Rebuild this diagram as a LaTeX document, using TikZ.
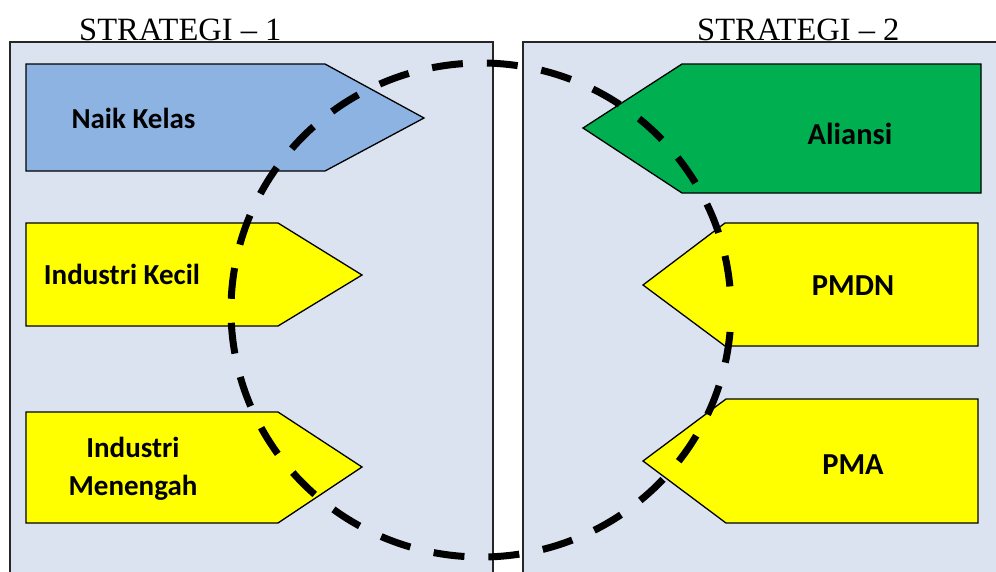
\documentclass[tikz,border=0pt]{standalone}
\usepackage{fontspec}
\setmainfont{Liberation Serif}
\newfontfamily\lblfont{Carlito}
\definecolor{panelfill}{HTML}{DBE3F0}
\definecolor{bluefill}{HTML}{8DB3E2}
\definecolor{greenfill}{HTML}{00B050}
\definecolor{yellowfill}{HTML}{FFFF00}
\tikzset{
  panelbox/.style={fill=panelfill},
  paneledge/.style={draw=black!85, line width=1.5pt},
  arrowshape/.style={draw=black, line width=1.3pt, line join=miter},
  lbl/.style={font=\lblfont\bfseries\fontsize{29}{38}\selectfont, align=center, anchor=base, inner sep=0pt},
  rlbl/.style={font=\lblfont\bfseries\fontsize{30.5}{38}\selectfont, anchor=base, inner sep=0pt},
  titlelbl/.style={font=\fontsize{32.5}{38}\selectfont, anchor=base west, inner sep=0pt},
  ring/.style={line width=7pt, dash pattern=on 31pt off 24pt, dash phase=33pt}
}
\begin{document}
\begin{tikzpicture}[x=1pt,y=-1pt]
\useasboundingbox (0,0) rectangle (996,571);
\begin{scope}
\clip (0,0) rectangle (996,571);
% panels
\fill[panelbox] (10,42) rectangle (493,590);
\draw[paneledge] (10,590) -- (10,42) -- (493,42) -- (493,590);
\fill[panelbox] (523,42) rectangle (1010,590);
\draw[paneledge] (523,590) -- (523,42) -- (1010,42);
\end{scope}
% titles
\node[titlelbl] (t1) at (79,40) {STRATEGI – 1};
\node[titlelbl] (t2) at (697,40) {STRATEGI – 2};
% left arrows
\draw[arrowshape, fill=bluefill] (26,64) -- (325,64) -- (424,118) -- (325,171) -- (26,171) -- cycle;
\draw[arrowshape, fill=yellowfill] (26,223) -- (278,223) -- (362,275) -- (278,326) -- (26,326) -- cycle;
\draw[arrowshape, fill=yellowfill] (26,412) -- (278,412) -- (362,467) -- (278,523) -- (26,523) -- cycle;
% right arrows
\draw[arrowshape, fill=greenfill] (981,64) -- (682,64) -- (583,128) -- (682,193) -- (981,193) -- cycle;
\draw[arrowshape, fill=yellowfill] (978,223) -- (725,223) -- (643,285) -- (725,346) -- (978,346) -- cycle;
\draw[arrowshape, fill=yellowfill] (978,399) -- (726,399) -- (643,461) -- (726,523) -- (978,523) -- cycle;
% labels
\node[lbl] (naik) at (133.5,128) {Naik Kelas};
\node[lbl] (kecil) at (122,284) {Industri Kecil};
\node[lbl] (menengah1) at (133,457) {Industri};
\node[lbl] (menengah2) at (133,495) {Menengah};
\node[rlbl] (aliansi) at (850,144) {Aliansi};
\node[rlbl] (pmdn) at (853,295) {PMDN};
\node[rlbl] (pma) at (853,474) {PMA};
% dashed ring
\draw[ring] (481,310) ellipse [x radius=250, y radius=247];
\end{tikzpicture}
\end{document}
